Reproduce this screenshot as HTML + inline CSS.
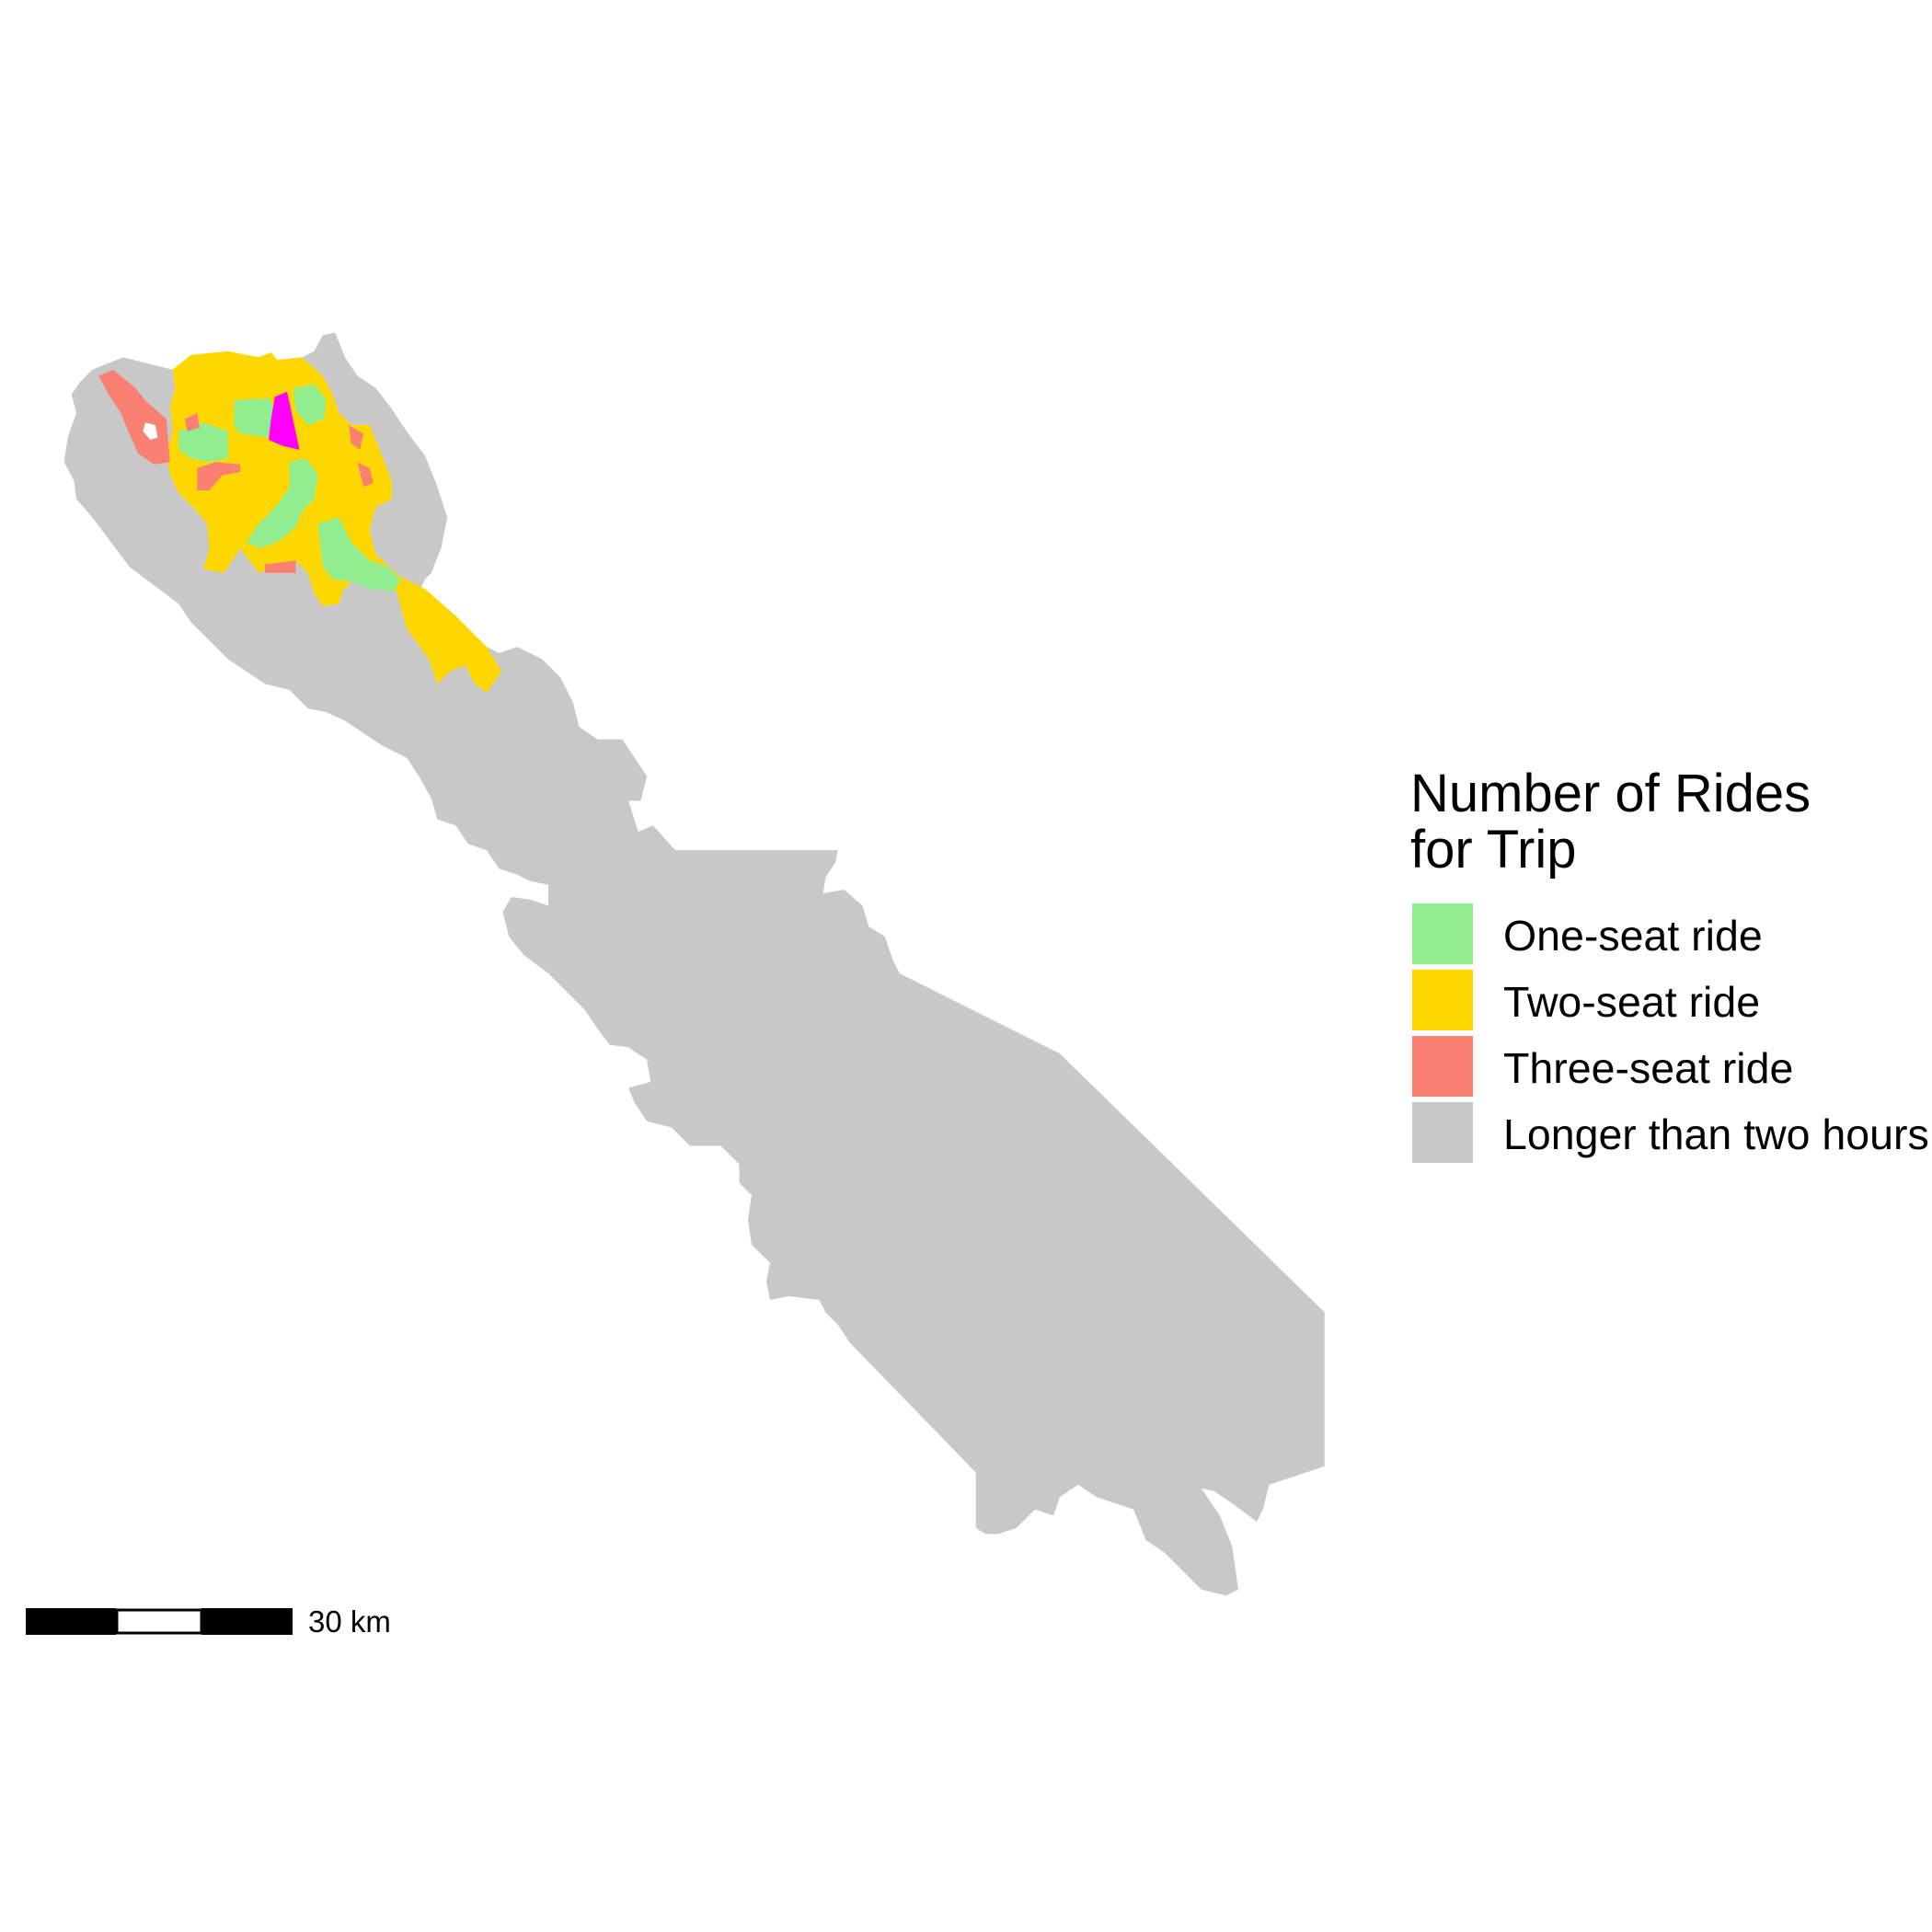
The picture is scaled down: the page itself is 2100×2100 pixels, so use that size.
<!DOCTYPE html>
<html><head><meta charset="utf-8"><style>html,body{margin:0;padding:0;background:#fff}svg{display:block}</style></head>
<body>
<svg id="chart" width="2100" height="2100" viewBox="0 0 2100 2100" xmlns="http://www.w3.org/2000/svg" font-family="'Liberation Sans', Arial, sans-serif">
<g id="map" transform="scale(1.3393)">
<polygon fill="#C8C8C8" points="65,310 75,300 100,290 120,295 140,300 155,290 185,288 215,290 235,295 255,285 262,272 272,270 280,290 290,305 305,315 318,332 330,350 345,370 355,395 363,420 358,445 350,465 345,470 340,480 385,520 405,530 420,525 440,535 455,550 465,570 470,590 485,600 505,600 515,615 525,630 520,650 510,650 518,675 530,670 548,690 680,690 678,700 670,712 668,725 685,722 700,735 705,752 718,760 725,780 730,790 860,855 1075,1065 1075,1190 1060,1195 1045,1200 1030,1205 1025,1225 1020,1235 1000,1220 985,1210 975,1208 990,1230 1000,1255 1005,1290 995,1295 975,1290 960,1275 945,1260 930,1250 920,1225 905,1220 890,1215 875,1205 860,1215 855,1230 840,1225 825,1240 810,1245 800,1245 792,1240 792,1195 690,1090 680,1075 670,1065 665,1055 640,1052 625,1055 622,1040 625,1025 610,1010 607,990 610,970 600,960 600,945 585,930 560,930 545,915 525,910 515,895 510,883 528,878 525,860 510,850 495,848 485,835 475,820 460,805 445,790 425,775 413,760 408,740 415,728 430,730 445,735 445,718 430,715 420,710 405,705 395,690 380,685 370,670 355,665 350,648 340,630 330,615 310,605 295,595 280,585 265,578 250,575 235,560 215,555 200,545 185,535 170,520 155,505 145,490 125,475 105,460 90,440 75,420 62,405 60,390 52,375 55,355 62,335 58,320"/>
<polygon fill="#FFD700" points="140,300 155,288 185,285 210,290 220,286 225,292 245,290 262,305 270,320 275,335 285,345 300,345 310,370 318,390 318,405 305,412 300,430 305,450 325,468 345,478 370,500 395,525 407,545 395,562 385,555 378,540 365,545 355,555 348,535 330,510 322,480 300,476 285,472 278,480 275,490 262,492 255,482 250,465 240,455 225,460 210,465 195,445 182,465 165,462 170,445 168,425 155,410 145,400 138,385 135,370 140,350 138,330 142,315"/>
<polygon fill="#FA8072" points="80,305 92,300 110,315 118,325 135,340 138,375 125,377 112,368 104,350 98,335 88,320"/>
<polygon fill="#FFFFFF" points="118,343 126,345 128,355 122,357 116,350"/>
<polygon fill="#90EE90" points="190,325 218,323 222,330 218,355 195,352 190,345"/>
<polygon fill="#90EE90" points="145,350 165,343 185,350 185,372 170,375 155,372 145,365"/>
<polygon fill="#90EE90" points="238,315 255,312 265,325 263,340 250,345 240,333"/>
<polygon fill="#90EE90" points="235,375 248,372 258,385 255,405 245,415 240,428 225,440 210,445 200,440 210,425 225,410 235,395"/>
<polygon fill="#90EE90" points="258,425 275,420 285,440 300,455 315,460 325,470 320,480 300,478 285,472 270,470 262,460"/>
<polygon fill="#FF00FF" points="223,322 233,318 243,365 230,362 218,357 220,340"/>
<polygon fill="#FA8072" points="160,380 175,375 195,377 195,383 180,386 170,398 160,398"/>
<polygon fill="#FA8072" points="283,345 295,352 292,365 285,360"/>
<polygon fill="#FA8072" points="290,375 300,380 303,392 295,395"/>
<polygon fill="#FA8072" points="215,458 240,455 240,465 215,465"/>
<polygon fill="#FA8072" points="150,340 160,335 162,347 152,350"/>
</g>
<g id="legend">
<text x="1533" y="882" font-size="58">Number of Rides</text>
<text x="1533" y="943" font-size="58">for Trip</text>
</g>
<g id="scalebar">
<rect x="28" y="1748" width="98" height="29" fill="#000"/>
<rect x="127" y="1750" width="92" height="25" fill="#fff" stroke="#000" stroke-width="3"/>
<rect x="219" y="1748" width="99" height="29" fill="#000"/>
<text x="335" y="1774" font-size="33">30 km</text>
</g>
<script>
const legendLabels = ["One-seat ride", "Two-seat ride", "Three-seat ride", "Longer than two hours"];
const legendColors = ["#90EE90", "#FFD700", "#FA8072", "#C8C8C8"];
const NS = "http://www.w3.org/2000/svg";
const lg = document.getElementById('legend');
legendLabels.forEach((lab, i) => {
  const r = document.createElementNS(NS, 'rect');
  r.setAttribute('x', 1535); r.setAttribute('y', 982 + i * 72);
  r.setAttribute('width', 66); r.setAttribute('height', 66);
  r.setAttribute('fill', legendColors[i]);
  
  
  lg.appendChild(r);
  const t = document.createElementNS(NS, 'text');
  t.setAttribute('x', 1634); t.setAttribute('y', 1033 + i * 72);
  t.setAttribute('font-size', 46.5);
  t.textContent = lab;
  
  
  lg.appendChild(t);
});
</script>
</svg>
</body></html>
